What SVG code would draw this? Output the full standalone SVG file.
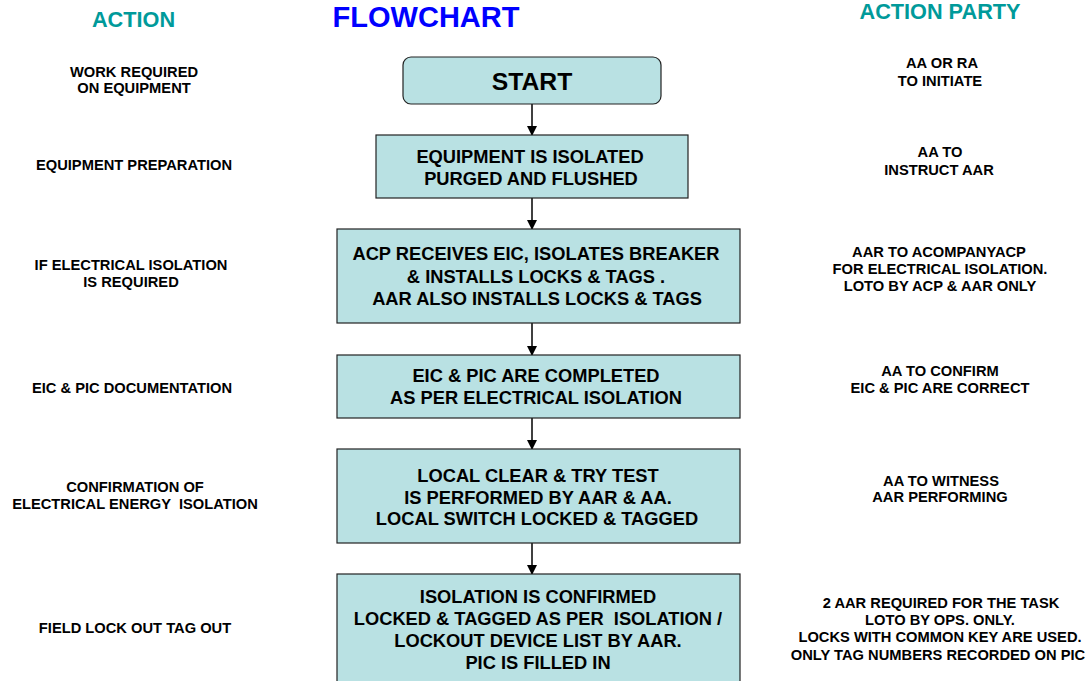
<svg xmlns="http://www.w3.org/2000/svg" width="1089" height="681" viewBox="0 0 1089 681">
<style>
.hd{font-family:"Liberation Sans",Arial,sans-serif;font-weight:bold;text-anchor:middle;fill:#009A9A;font-size:21.7px}
.ttl{font-family:"Liberation Sans",Arial,sans-serif;font-weight:bold;text-anchor:middle;fill:#0000FF;font-size:29px}
.sm{font-family:"Liberation Sans",Arial,sans-serif;font-weight:bold;text-anchor:middle;fill:#000;font-size:14.7px}
.bx{font-family:"Liberation Sans",Arial,sans-serif;font-weight:bold;text-anchor:middle;fill:#000;font-size:18.3px}
.box{fill:#B9E1E3;stroke:#222;stroke-width:1.2}
.con{stroke:#000;stroke-width:1.5;fill:none}
</style>
<defs>
<marker id="ah" markerWidth="10" markerHeight="10" refX="9" refY="5" orient="auto" markerUnits="userSpaceOnUse">
<path d="M0,0 L10,5 L0,10 Z" fill="#000"/>
</marker>
</defs>
<rect width="1089" height="681" fill="#fff"/>
<g id="headers">
<text class="hd" x="133.5" y="27">ACTION</text>
<text class="ttl" x="426" y="27">FLOWCHART</text>
<text class="hd" x="940" y="19">ACTION PARTY</text>
</g>
<g id="connectors">
<line class="con" x1="532" y1="104" x2="532" y2="135" marker-end="url(#ah)"/>
<line class="con" x1="532" y1="198" x2="532" y2="229" marker-end="url(#ah)"/>
<line class="con" x1="532" y1="323" x2="532" y2="355" marker-end="url(#ah)"/>
<line class="con" x1="532" y1="418" x2="532" y2="449" marker-end="url(#ah)"/>
<line class="con" x1="532" y1="543" x2="532" y2="574" marker-end="url(#ah)"/>
</g>
<g id="start">
<rect class="box" x="403" y="57" width="258" height="47" rx="8"/>
<text class="bx" x="532" y="90" style="font-size:24.7px">START</text>
</g>
<g id="step1">
<rect class="box" x="376" y="135" width="312" height="63"/>
<text class="bx" x="530" y="163">EQUIPMENT IS ISOLATED</text>
<text class="bx" x="531" y="185">PURGED AND FLUSHED</text>
</g>
<g id="step2">
<rect class="box" x="337" y="229" width="403" height="94"/>
<text class="bx" x="536" y="260">ACP RECEIVES EIC, ISOLATES BREAKER</text>
<text class="bx" x="536" y="283">&amp; INSTALLS LOCKS &amp; TAGS .</text>
<text class="bx" x="537" y="305">AAR ALSO INSTALLS LOCKS &amp; TAGS</text>
</g>
<g id="step3">
<rect class="box" x="337" y="355" width="403" height="63"/>
<text class="bx" x="536" y="382">EIC &amp; PIC ARE COMPLETED</text>
<text class="bx" x="536" y="404">AS PER ELECTRICAL ISOLATION</text>
</g>
<g id="step4">
<rect class="box" x="337" y="449" width="403" height="94"/>
<text class="bx" x="538" y="482">LOCAL CLEAR &amp; TRY TEST</text>
<text class="bx" x="538" y="504">IS PERFORMED BY AAR &amp; AA.</text>
<text class="bx" x="537" y="525">LOCAL SWITCH LOCKED &amp; TAGGED</text>
</g>
<g id="step5">
<rect class="box" x="337" y="574" width="403" height="120"/>
<text class="bx" x="538" y="603">ISOLATION IS CONFIRMED</text>
<text class="bx" x="538" y="625" xml:space="preserve">LOCKED &amp; TAGGED AS PER  ISOLATION /</text>
<text class="bx" x="538" y="647">LOCKOUT DEVICE LIST BY AAR.</text>
<text class="bx" x="538" y="669">PIC IS FILLED IN</text>
</g>
<g id="actions">
<text class="sm" x="134" y="77">WORK REQUIRED</text>
<text class="sm" x="134" y="93">ON EQUIPMENT</text>
<text class="sm" x="134" y="170">EQUIPMENT PREPARATION</text>
<text class="sm" x="131" y="270">IF ELECTRICAL ISOLATION</text>
<text class="sm" x="131" y="287">IS REQUIRED</text>
<text class="sm" x="132" y="393">EIC &amp; PIC DOCUMENTATION</text>
<text class="sm" x="135" y="492">CONFIRMATION OF</text>
<text class="sm" x="135" y="509" xml:space="preserve">ELECTRICAL ENERGY  ISOLATION</text>
<text class="sm" x="135" y="633">FIELD LOCK OUT TAG OUT</text>
</g>
<g id="parties">
<text class="sm" x="942" y="68">AA OR RA</text>
<text class="sm" x="940" y="86">TO INITIATE</text>
<text class="sm" x="940" y="157">AA TO</text>
<text class="sm" x="939" y="175">INSTRUCT AAR</text>
<text class="sm" x="939" y="257">AAR TO ACOMPANYACP</text>
<text class="sm" x="940" y="274">FOR ELECTRICAL ISOLATION.</text>
<text class="sm" x="940" y="291">LOTO BY ACP &amp; AAR ONLY</text>
<text class="sm" x="940" y="376">AA TO CONFIRM</text>
<text class="sm" x="940" y="393">EIC &amp; PIC ARE CORRECT</text>
<text class="sm" x="941" y="486">AA TO WITNESS</text>
<text class="sm" x="940" y="502">AAR PERFORMING</text>
<text class="sm" x="941" y="608">2 AAR REQUIRED FOR THE TASK</text>
<text class="sm" x="940" y="625">LOTO BY OPS. ONLY.</text>
<text class="sm" x="940" y="642">LOCKS WITH COMMON KEY ARE USED.</text>
<text class="sm" x="938" y="660">ONLY TAG NUMBERS RECORDED ON PIC</text>
</g>
</svg>
